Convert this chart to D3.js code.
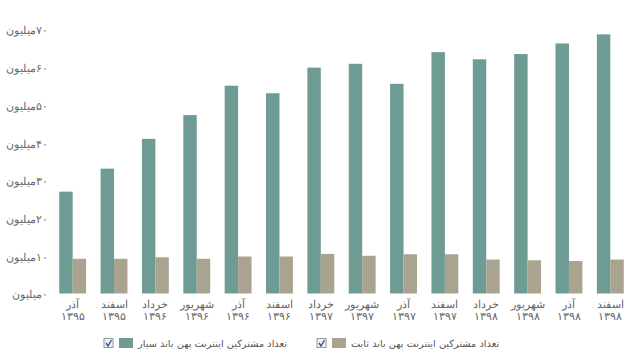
<!DOCTYPE html>
<html>
<head>
<meta charset="utf-8">
<script src="https://cdn.jsdelivr.net/npm/d3@7"></script>
<style>
  body { margin: 0; background: #fff; }
  svg { font-family: "DejaVu Sans", sans-serif; }
</style>
</head>
<body>
<div id="chart"></div>
<script>
// categories (month / year)
const months = ["آذر", "اسفند", "خرداد", "شهریور", "آذر", "اسفند", "خرداد", "شهریور", "آذر", "اسفند", "خرداد", "شهریور", "آذر", "اسفند"];
const years = ["۱۳۹۵", "۱۳۹۵", "۱۳۹۶", "۱۳۹۶", "۱۳۹۶", "۱۳۹۶", "۱۳۹۷", "۱۳۹۷", "۱۳۹۷", "۱۳۹۷", "۱۳۹۸", "۱۳۹۸", "۱۳۹۸", "۱۳۹۸"];

// subscribers, millions
const mobileValues = [27.0, 33.1, 41.0, 47.3, 55.1, 53.1, 59.9, 60.9, 55.6, 64.0, 62.1, 63.5, 66.3, 68.7];
const fixedValues = [9.2, 9.2, 9.6, 9.2, 9.8, 9.8, 10.5, 10.0, 10.4, 10.4, 9.0, 8.8, 8.6, 9.0];

const yTicks = [0, 10, 20, 30, 40, 50, 60, 70];
const seriesNames = ["تعداد مشترکین اینترنت پهن باند سیار", "تعداد مشترکین اینترنت پهن باند ثابت"];
const seriesKeys = ["mobile", "fixed"];

const colors = { mobile: "#6f9b95", fixed: "#aaa38f" };
const faDigits = "۰۱۲۳۴۵۶۷۸۹";
const toFa = n => String(n).replace(/\d/g, d => faDigits[d]);

const width = 640, height = 354;
const svg = d3.select("#chart").append("svg")
    .attr("width", width)
    .attr("height", height);

const rows = months.map((m, i) => ({
    idx: i,
    month: m,
    year: years[i],
    mobile: mobileValues[i],
    fixed: fixedValues[i]
}));

const x0 = d3.scaleBand()
    .domain(rows.map(d => d.idx))
    .range([52, 631])
    .paddingInner(0.35)
    .paddingOuter(0.175);

const x1 = d3.scaleBand()
    .domain(seriesKeys)
    .range([0, x0.bandwidth()]);

const y = d3.scaleLinear()
    .domain([0, 70])
    .range([293.5, 29.5]);

// y axis labels
const yAxis = svg.append("g")
    .attr("transform", "translate(48,0)")
    .call(d3.axisLeft(y).tickValues(yTicks).tickSize(0).tickPadding(0)
        .tickFormat(d => toFa(d) + "میلیون"));
yAxis.select(".domain").remove();
yAxis.selectAll("text")
    .attr("direction", "rtl")
    .attr("text-anchor", "start")
    .attr("dy", "0.42em")
    .attr("fill", "#666")
    .style("font-size", "10.5px");

// bars
const groups = svg.append("g")
    .selectAll("g")
    .data(rows)
    .join("g")
    .attr("transform", d => `translate(${x0(d.idx)},0)`);

groups.selectAll("rect")
    .data(d => seriesKeys.map(k => ({ key: k, value: d[k] })))
    .join("rect")
    .attr("x", d => x1(d.key))
    .attr("width", x1.bandwidth())
    .attr("y", d => y(d.value))
    .attr("height", d => y(0) - y(d.value))
    .attr("fill", d => colors[d.key]);

// category labels
const xAxis = svg.append("g")
    .attr("transform", `translate(0,${y(0)})`)
    .call(d3.axisBottom(x0).tickSize(0).tickFormat(""));
xAxis.select(".domain").remove();
xAxis.selectAll(".tick").each(function(i) {
    const t = d3.select(this).append("text")
        .attr("fill", "#666")
        .attr("text-anchor", "middle")
        .style("font-size", "11px");
    t.append("tspan").attr("x", 0).attr("y", 14).text(months[i]);
    t.append("tspan").attr("x", 0).attr("y", 26).text(years[i]);
});

// legend
const legendItems = [
    { key: "mobile", name: seriesNames[0], x: 104 },
    { key: "fixed", name: seriesNames[1], x: 317 }
];
const legend = svg.append("g")
    .attr("transform", "translate(0,343)")
    .selectAll("g")
    .data(legendItems)
    .join("g")
    .attr("transform", d => `translate(${d.x},0)`);

legend.append("rect")
    .attr("x", 0).attr("y", -4.5)
    .attr("width", 9).attr("height", 9)
    .attr("fill", "#eef1f6")
    .attr("stroke", "#8d99aa");
legend.append("path")
    .attr("d", "M2,0 L4,3 L7.5,-3")
    .attr("fill", "none")
    .attr("stroke", "#3d4f7a")
    .attr("stroke-width", 1.4);
legend.append("rect")
    .attr("x", 15).attr("y", -5)
    .attr("width", 14).attr("height", 10)
    .attr("fill", d => colors[d.key]);
legend.append("text")
    .attr("x", 34)
    .attr("y", 4)
    .attr("fill", "#555")
    .style("font-size", "9.8px")
    .text(d => d.name);
</script>
</body>
</html>
